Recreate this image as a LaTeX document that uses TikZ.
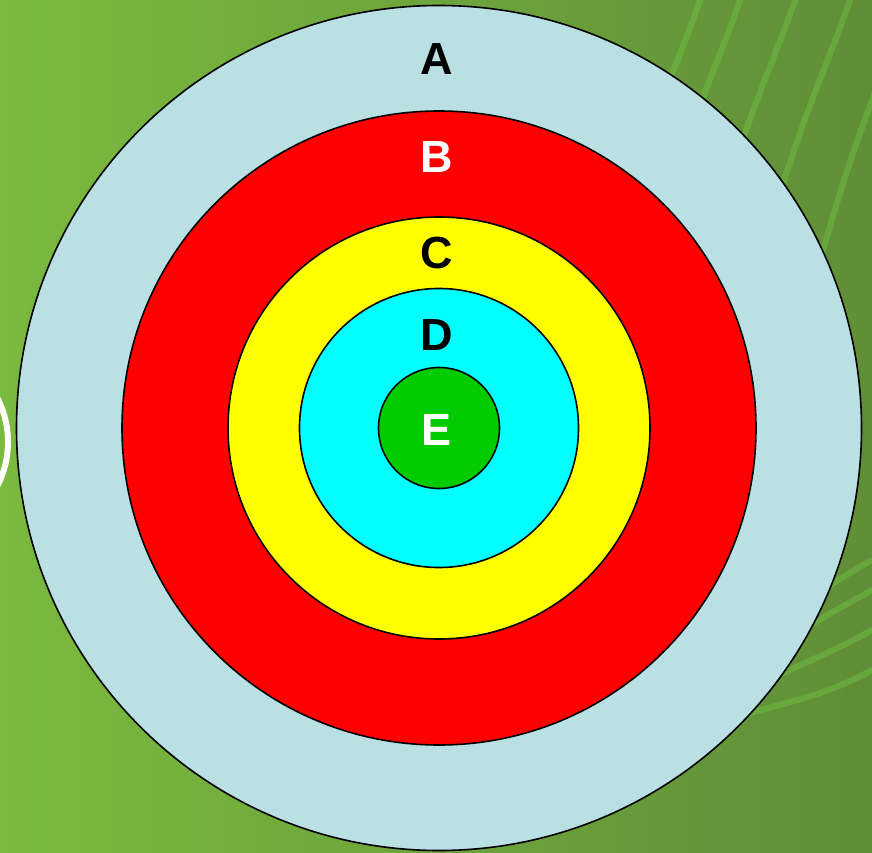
\documentclass[tikz,border=0pt]{standalone}
\usepackage{fontspec}
\setmainfont{Liberation Sans}
\usetikzlibrary{positioning}
\definecolor{bgleft}{RGB}{122,186,62}
\definecolor{bgright}{RGB}{96,142,56}
\definecolor{bgstreak}{RGB}{112,196,66}
\definecolor{ringa}{RGB}{187,224,227}
\definecolor{ringb}{RGB}{255,0,0}
\definecolor{ringc}{RGB}{255,255,0}
\definecolor{ringd}{RGB}{0,255,255}
\definecolor{ringe}{RGB}{0,204,0}
\tikzset{
  every picture/.style={line cap=round, line join=round},
  ring/.style={draw=black, line width=1.6pt},
  streak/.style={bgstreak, line width=6pt, opacity=0.45},
  lbl/.style={font=\fontsize{45}{50}\selectfont\bfseries, inner sep=0pt},
}

\begin{document}
\begin{tikzpicture}[x=1pt, y=-1pt]
  % ---- background
  \shade[left color=bgleft, right color=bgright] (0,0) rectangle (872,853);
  \useasboundingbox (0,0) rectangle (872,853);
  \foreach \s in {0,40,95,150,210}
    \draw[streak] (700+\s,0) .. controls (680+\s,60) and (640+\s,140) .. (600+\s,300);
  \foreach \s in {0,30,70,110}
    \draw[streak] (872,560+\s) .. controls (800,600+\s) and (740,650+\s/2) .. (700,700+\s/3);
  \draw[white, line width=6pt] (-88,442) circle[radius=96pt];
  % ---- target rings
  \coordinate (ctr) at (439,428);
  \foreach \r/\c in {422.5/ringa, 317/ringb, 211/ringc, 139.5/ringd, 60.5/ringe}
    \draw[ring, fill=\c] (ctr) circle[radius=\r pt];
  % ---- ring labels
  \node[lbl, black] (labA) at (437,59) {A};
  \node[lbl, white] (labB) at (437,157) {B};
  \node[lbl, black] (labC) at (437,253) {C};
  \node[lbl, black] (labD) at (437,335) {D};
  \node[lbl, white] (labE) at (437,430) {E};
\end{tikzpicture}
\end{document}
